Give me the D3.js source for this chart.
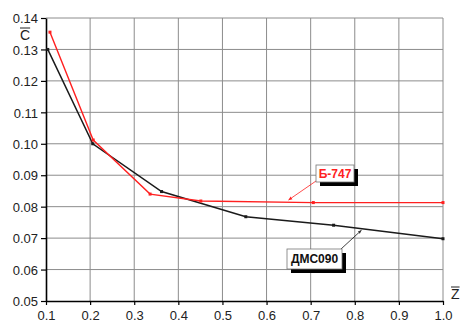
<!DOCTYPE html>
<html>
<head>
<meta charset="utf-8">
<script src="https://cdn.jsdelivr.net/npm/d3@7"></script>
<style>
  body { margin: 0; background: #fff; }
  text { font-family: "Liberation Sans", Arial, sans-serif; }
</style>
</head>
<body>
<svg id="chart" width="463" height="322"></svg>
<script>
let svg = d3.select("#chart");

// data
let xTicks = [0.1, 0.2, 0.3, 0.4, 0.5, 0.6, 0.7, 0.8, 0.9, 1.0];
let yTicks = [0.05, 0.06, 0.07, 0.08, 0.09, 0.10, 0.11, 0.12, 0.13, 0.14];
let b747 = [[0.109, 0.1355], [0.207, 0.1012], [0.336, 0.0840], [0.451, 0.0818], [0.706, 0.0813], [1.0, 0.0813]];
let dmc090 = [[0.104, 0.1300], [0.206, 0.1000], [0.362, 0.0848], [0.553, 0.0768], [0.752, 0.0741], [1.0, 0.0698]];

let x = d3.scaleLinear().domain([0.1, 1.0]).range([46, 443]);
let y = d3.scaleLinear().domain([0.05, 0.14]).range([301, 18]);

// grid
let grid = svg.append("g").attr("class", "grid");
grid.selectAll("line.v")
  .data(xTicks.slice(1))
  .enter()
  .append("line")
  .attr("x1", d => x(d)).attr("x2", d => x(d))
  .attr("y1", y(0.14)).attr("y2", y(0.05))
  .attr("stroke", "#8c8c8c")
  .attr("stroke-width", 1);
grid.selectAll("line.h")
  .data(yTicks.slice(1))
  .enter()
  .append("line")
  .attr("x1", x(0.1)).attr("x2", x(1.0))
  .attr("y1", d => y(d)).attr("y2", d => y(d))
  .attr("stroke", "#8c8c8c")
  .attr("stroke-width", 1);

// axes
let yAxis = svg.append("g")
  .attr("transform", `translate(${x(0.1)},0)`)
  .call(d3.axisLeft(y).tickValues(yTicks).tickFormat(d3.format(".2f")).tickSize(5).tickSizeOuter(0));
let xAxis = svg.append("g")
  .attr("transform", `translate(0,${y(0.05)})`)
  .call(d3.axisBottom(x).tickValues(xTicks).tickFormat(d3.format(".1f")).tickSize(4).tickSizeOuter(0));

[yAxis, xAxis].forEach(a => {
  a.select(".domain").attr("stroke", "#000").attr("stroke-width", 1.6);
  a.selectAll(".tick line").attr("stroke", "#000").attr("stroke-width", 1.2);
  a.selectAll(".tick text")
    .attr("fill", "#222")
    .style("font-size", "13px")
    .style("font-family", "'Liberation Sans', Arial, sans-serif");
});
yAxis.selectAll(".tick text").attr("x", -8).attr("dy", "0.36em");
xAxis.selectAll(".tick text").attr("y", 10).attr("dy", "0.71em");

// series
let line = d3.line().x(d => x(d[0])).y(d => y(d[1]));

function drawSeries(data, color, sw) {
  let g = svg.append("g");
  g.append("path")
    .attr("d", line(data))
    .attr("fill", "none")
    .attr("stroke", color)
    .attr("stroke-width", sw);
  g.selectAll("rect")
    .data(data)
    .enter()
    .append("rect")
    .attr("x", d => x(d[0]) - 1.5)
    .attr("y", d => y(d[1]) - 1.5)
    .attr("width", 3)
    .attr("height", 3)
    .attr("fill", color);
}
drawSeries(dmc090, "#1a1a1a", 1.5);
drawSeries(b747, "#ff2020", 1.4);

// axis titles with bars
function barLabel(txt, px, py) {
  let t = svg.append("text")
    .text(txt)
    .attr("x", px)
    .attr("y", py)
    .attr("fill", "#222")
    .style("font-size", "14px");
  let w = t.node().getComputedTextLength();
  svg.append("line")
    .attr("x1", px).attr("x2", px + w)
    .attr("y1", py - 12).attr("y2", py - 12)
    .attr("stroke", "#222")
    .attr("stroke-width", 1);
}
barLabel("C", 20, 40);
barLabel("Z", 451, 299);

// callouts
let defs = svg.append("defs");
["#ff2020", "#333"].forEach((c, i) => {
  defs.append("marker")
    .attr("id", "arr" + i)
    .attr("viewBox", "0 0 10 10")
    .attr("refX", 9).attr("refY", 5)
    .attr("markerWidth", 5).attr("markerHeight", 5)
    .attr("orient", "auto")
    .append("path")
    .attr("d", "M0,1L10,5L0,9Z")
    .attr("fill", c);
});

function callout(txt, color, bx, by, bw, bh, lx1, ly1, tx, ty, mi) {
  svg.append("line")
    .attr("x1", lx1).attr("y1", ly1)
    .attr("x2", tx).attr("y2", ty)
    .attr("stroke", color)
    .attr("stroke-width", 0.8)
    .attr("marker-end", `url(#arr${mi})`);
  svg.append("rect")
    .attr("x", bx + 4).attr("y", by + 4)
    .attr("width", bw).attr("height", bh)
    .attr("fill", "#000");
  svg.append("rect")
    .attr("x", bx).attr("y", by)
    .attr("width", bw).attr("height", bh)
    .attr("fill", "#fff")
    .attr("stroke", "#777")
    .attr("stroke-width", 0.8);
  svg.append("text")
    .text(txt)
    .attr("x", bx + bw / 2)
    .attr("y", by + bh / 2 + 4)
    .attr("text-anchor", "middle")
    .attr("fill", color)
    .style("font-size", "12px")
    .style("font-weight", "bold");
}
callout("Б-747", "#ff2020", 316, 165, 38, 17, 316, 181, x(0.65), y(0.0815) - 2, 0);
callout("ДМС090", "#111", 287, 249, 55, 20, 341, 249, x(0.815), y(0.0725), 1);
</script>
</body>
</html>
